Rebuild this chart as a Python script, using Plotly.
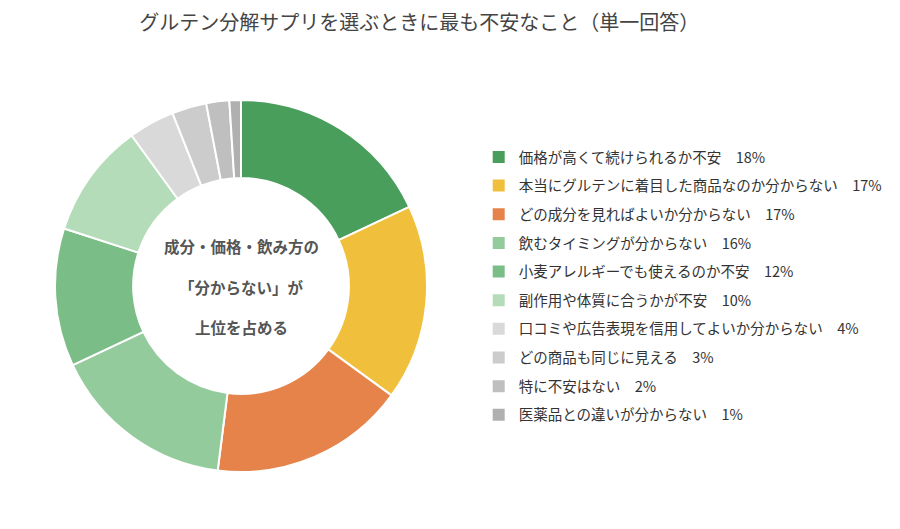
# グルテン分解サプリ：最も不安なこと（単一回答）のドーナツグラフ
import plotly.graph_objects as go

labels = [
    '価格が高くて続けられるか不安',
    '本当にグルテンに着目した商品なのか分からない',
    'どの成分を見ればよいか分からない',
    '飲むタイミングが分からない',
    '小麦アレルギーでも使えるのか不安',
    '副作用や体質に合うかが不安',
    '口コミや広告表現を信用してよいか分からない',
    'どの商品も同じに見える',
    '特に不安はない',
    '医薬品との違いが分からない',
]
values = [18, 17, 17, 16, 12, 10, 4, 3, 2, 1]
colors = ['#4a9e5c', '#f0c03c', '#e5834a', '#94cb9d', '#7bbd87',
          '#b5dcb9', '#d9d9d9', '#cccccc', '#bfbfbf', '#b0b0b0']
center_lines = ['成分・価格・飲み方の', '「分からない」が', '上位を占める']

FONT = 'Noto Sans CJK JP'

fig = go.Figure()

# donut
fig.add_trace(go.Pie(
    labels=labels, values=values, sort=False, direction='clockwise', rotation=0,
    hole=0.58, textinfo='none', hoverinfo='label+percent', showlegend=False,
    marker=dict(colors=colors, line=dict(color='white', width=2)),
    domain=dict(x=[47 / 900, 419 / 900], y=[65 / 529, 437 / 529]),
))

# legend entries (one group each so spacing can be set)
for i, (lab, v, c) in enumerate(zip(labels, values, colors)):
    fig.add_trace(go.Scatter(
        x=[None], y=[None], mode='markers', name=f'{lab}\u3000{v}%',
        marker=dict(symbol='square', size=13, color=c),
        legendgroup=str(i), showlegend=True,
    ))

# center text
for j, line in enumerate(center_lines):
    fig.add_annotation(
        text=f'<b>{line}</b>', x=233 / 900, y=(251 + 40 - 40.5 * j) / 529,
        xref='paper', yref='paper', showarrow=False,
        xanchor='center', yanchor='middle',
        font=dict(family=FONT, size=15.5, color='#555555'),
    )

fig.update_layout(
    width=900, height=529,
    margin=dict(l=0, r=0, t=0, b=0),
    paper_bgcolor='white', plot_bgcolor='white',
    title=dict(text='グルテン分解サプリを選ぶときに最も不安なこと（単一回答）',
               x=0.457, xanchor='center', y=0.972, yanchor='middle',
               font=dict(family=FONT, size=20, color='#444444')),
    xaxis=dict(visible=False), yaxis=dict(visible=False),
    legend=dict(x=0.523, xanchor='left', y=(529 - 133) / 529, yanchor='top',
                tracegroupgap=6.8, itemsizing='constant',
                font=dict(family=FONT, size=14.5, color='#333333'),
                bgcolor='rgba(0,0,0,0)'),
    showlegend=True,
)

fig.write_html('out.html')
